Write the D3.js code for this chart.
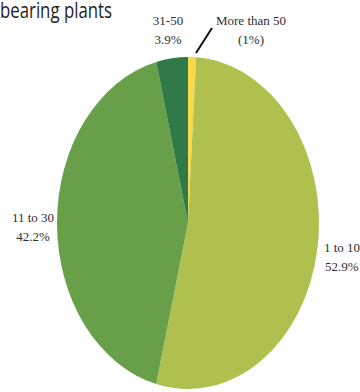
<!DOCTYPE html>
<html>
<head>
<meta charset="utf-8">
<script src="https://cdn.jsdelivr.net/npm/d3@7"></script>
<style>
  html, body { margin: 0; padding: 0; background: #ffffff; }
  svg { display: block; }
</style>
</head>
<body>
<svg id="chart" width="360" height="392"></svg>
<script>
// Share of farms by number of bearing plants (clockwise from 12 o'clock)
const categories = ["More than 50", "1 to 10", "11 to 30", "31-50"];
const shares = [1.0, 52.9, 42.2, 3.9];
const valueLabels = ["(1%)", "52.9%", "42.2%", "3.9%"];
const colors = ["#f6d84b", "#afc04f", "#67a048", "#2f7a48"];

const svg = d3.select("#chart");

// Title, set in a narrow face by compressing the glyphs horizontally
svg.append("text")
  .attr("x", 0)
  .attr("y", 18)
  .attr("font-family", "'Open Sans', 'DejaVu Sans', sans-serif")
  .attr("font-size", 21)
  .attr("fill", "#1e1e1e")
  .attr("textLength", 112)
  .attr("lengthAdjust", "spacingAndGlyphs")
  .text("bearing plants");

// Pie drawn as an ellipse: a circle of radius rx stretched vertically
const cx = 188, cy = 223, rx = 131, ry = 166;
const pie = d3.pie().sort(null).value(d => d.v);
const arc = d3.arc().innerRadius(0).outerRadius(rx);

const data = categories.map((c, i) => ({ c, v: shares[i], color: colors[i], lab: valueLabels[i] }));
const arcs = pie(data);

const g = svg.append("g")
  .attr("transform", `translate(${cx},${cy}) scale(1,${ry / rx})`);

g.selectAll("path")
  .data(arcs)
  .join("path")
  .attr("d", arc)
  .attr("fill", d => d.data.color);

// Slice labels
const labelPos = {
  "More than 50": { x: 251, y: 25, anchor: "middle" },
  "1 to 10":      { x: 324, y: 252, anchor: "start" },
  "11 to 30":     { x: 33, y: 222, anchor: "middle" },
  "31-50":        { x: 168, y: 25, anchor: "middle" }
};

const labels = svg.append("g")
  .attr("font-family", "'Liberation Serif', 'DejaVu Serif', serif")
  .attr("font-size", 13)
  .attr("fill", "#2e2e2e");

arcs.forEach(a => {
  const p = labelPos[a.data.c];
  const t = labels.append("text")
    .attr("x", p.x)
    .attr("y", p.y)
    .attr("text-anchor", p.anchor);
  t.append("tspan").attr("x", p.x).text(a.data.c);
  t.append("tspan").attr("x", p.anchor === "start" ? p.x + 1 : p.x).attr("dy", 19).text(a.data.lab);
});

// Leader line for the thin "More than 50" slice
svg.append("line")
  .attr("x1", 212).attr("y1", 28)
  .attr("x2", 196).attr("y2", 53)
  .attr("stroke", "#111111")
  .attr("stroke-width", 2);
</script>
</body>
</html>
